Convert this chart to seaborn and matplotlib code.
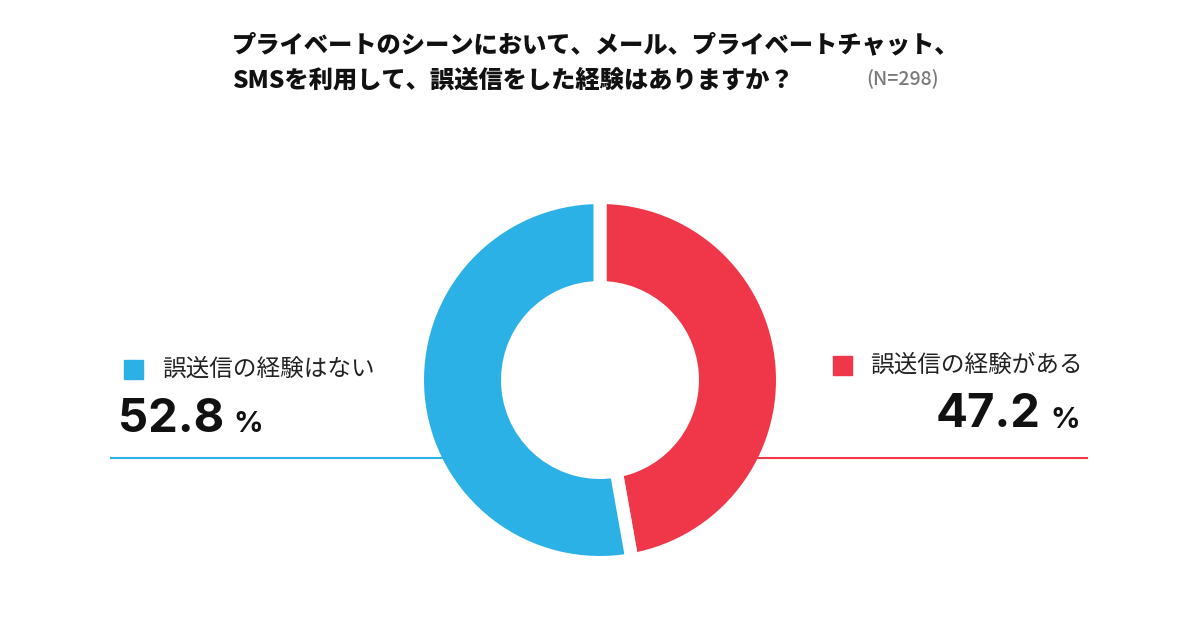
import matplotlib
matplotlib.use("Agg")
import matplotlib.pyplot as plt
import seaborn as sns

# ---- data ----
categories = ["誤送信の経験がある", "誤送信の経験はない"]
values = [47.2, 52.8]
value_labels = ["47.2", "52.8"]
colors = ["#F0374A", "#2CB1E6"]
title_line1 = "プライベートのシーンにおいて、メール、プライベートチャット、"
title_line2 = "SMSを利用して、誤送信をした経験はありますか？"
n_note = "(N=298)"

sns.set_theme(style="white")
plt.rcParams["font.family"] = ["Noto Sans CJK JP", "DejaVu Sans"]

W, H = 1200, 630
fig = plt.figure(figsize=(12, 6.3), dpi=100)
ax = fig.add_axes([0, 0, 1, 1])

def Y(y):
    return H - y

# donut
gap_px = 13
lw_pt = gap_px * 72 / 100
R = 176 + gap_px / 2
inner = 99 - gap_px / 2
wedges, _ = ax.pie(values, colors=colors, startangle=90, counterclock=False,
                   center=(600, Y(380)), radius=R, frame=True,
                   wedgeprops=dict(width=R - inner, edgecolor="white", linewidth=lw_pt))
for w in wedges:
    w.set_zorder(2)
ax.set_xlim(0, W)
ax.set_ylim(0, H)
ax.set_aspect("auto")
ax.axis("off")

# connector lines up to the donut edge
ax.plot([110, 443], [Y(458), Y(458)], color=colors[1], lw=1.5, zorder=3, solid_capstyle="butt")
ax.plot([757, 1088], [Y(458), Y(458)], color=colors[0], lw=1.5, zorder=3, solid_capstyle="butt")

# title
ax.text(232, Y(45), title_line1, fontsize=17.5, fontweight="heavy", color="#111111",
        ha="left", va="center")
ax.text(232, Y(80), title_line2, fontsize=17.5, fontweight="heavy", color="#111111",
        ha="left", va="center")
ax.text(866, Y(78), n_note, fontsize=14, fontweight="medium", color="#7a7a7a",
        ha="left", va="center")

num_font = ["Inter", "DejaVu Sans"]

# left legend (no experience)
ax.add_patch(plt.Rectangle((124, Y(379)), 19, 19, color=colors[1], zorder=3))
ax.text(162, Y(369), categories[1], fontsize=17, color="#222222", ha="left", va="center")
ax.text(118, Y(420), value_labels[1], fontsize=34, fontweight="bold", color="#111111",
        ha="left", va="center", family=num_font)
ax.text(233, Y(425), "%", fontsize=21, fontweight="bold", color="#111111",
        ha="left", va="center", family=num_font)

# right legend (has experience)
ax.add_patch(plt.Rectangle((833, Y(375)), 19, 19, color=colors[0], zorder=3))
ax.text(870, Y(365), categories[0], fontsize=17, color="#222222", ha="left", va="center")
ax.text(1041, Y(415), value_labels[0], fontsize=34, fontweight="bold", color="#111111",
        ha="right", va="center", family=num_font)
ax.text(1050, Y(420), "%", fontsize=21, fontweight="bold", color="#111111",
        ha="left", va="center", family=num_font)

fig.savefig("out.png", dpi=100, facecolor="white")
